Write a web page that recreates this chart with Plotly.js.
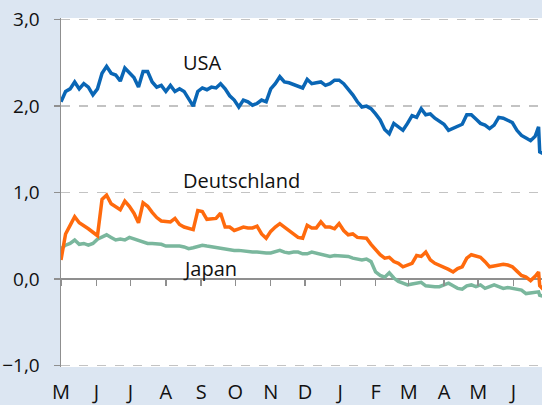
<!DOCTYPE html>
<html>
<head>
<meta charset="utf-8">
<script src="https://cdn.plot.ly/plotly-3.0.1.min.js"></script>
<style>html,body{margin:0;padding:0;background:#dce6f2;}#chart{width:542px;height:405px;}</style>
</head>
<body>
<div id="chart"></div>
<script>
const dates = [
'2015-05-01','2015-05-05','2015-05-09','2015-05-13','2015-05-17','2015-05-21','2015-05-25','2015-05-29','2015-06-02','2015-06-06',
'2015-06-10','2015-06-14','2015-06-18','2015-06-22','2015-06-26','2015-06-30','2015-07-04','2015-07-08','2015-07-12','2015-07-16',
'2015-07-20','2015-07-24','2015-07-28','2015-08-01','2015-08-05','2015-08-09','2015-08-13','2015-08-17','2015-08-21','2015-08-25',
'2015-08-29','2015-09-02','2015-09-06','2015-09-10','2015-09-14','2015-09-18','2015-09-22','2015-09-26','2015-09-30','2015-10-04',
'2015-10-08','2015-10-12','2015-10-16','2015-10-20','2015-10-24','2015-10-28','2015-11-01','2015-11-05','2015-11-09','2015-11-13',
'2015-11-17','2015-11-21','2015-11-25','2015-11-29','2015-12-03','2015-12-07','2015-12-11','2015-12-15','2015-12-19','2015-12-23',
'2015-12-27','2015-12-31','2016-01-04','2016-01-08','2016-01-12','2016-01-16','2016-01-20','2016-01-24','2016-01-28','2016-02-01',
'2016-02-05','2016-02-09','2016-02-13','2016-02-17','2016-02-21','2016-02-25','2016-02-29','2016-03-04','2016-03-08','2016-03-12',
'2016-03-16','2016-03-20','2016-03-24','2016-03-28','2016-04-01','2016-04-05','2016-04-09','2016-04-13','2016-04-17','2016-04-21',
'2016-04-25','2016-04-29','2016-05-03','2016-05-07','2016-05-11','2016-05-15','2016-05-19','2016-05-23','2016-05-27','2016-05-31',
'2016-06-04','2016-06-08','2016-06-12','2016-06-16','2016-06-20',
'2016-06-23','2016-06-24','2016-06-27'
];
const usa = [
2.05,2.17,2.20,2.28,2.20,2.26,2.22,2.13,2.20,2.38,
2.46,2.38,2.36,2.29,2.44,2.38,2.33,2.22,2.40,2.40,
2.28,2.22,2.24,2.17,2.24,2.17,2.20,2.17,2.09,2.00,
2.17,2.21,2.19,2.22,2.21,2.26,2.20,2.12,2.07,1.99,
2.07,2.05,2.01,2.03,2.07,2.05,2.20,2.26,2.34,2.28,
2.27,2.25,2.24,2.21,2.31,2.26,2.27,2.28,2.24,2.26,
2.30,2.30,2.26,2.20,2.13,2.05,1.99,2.00,1.97,1.91,
1.84,1.73,1.68,1.80,1.76,1.72,1.80,1.89,1.87,1.97,
1.90,1.91,1.86,1.82,1.79,1.72,1.74,1.76,1.79,1.90,
1.90,1.85,1.80,1.78,1.74,1.78,1.87,1.86,1.84,1.81,
1.72,1.66,1.63,1.60,1.65,
1.76,1.47,1.45
];
const deutschland = [
0.22,0.52,0.62,0.72,0.65,0.62,0.58,0.54,0.50,0.92,
0.97,0.87,0.84,0.80,0.90,0.84,0.76,0.65,0.88,0.84,
0.77,0.71,0.67,0.67,0.66,0.70,0.63,0.60,0.58,0.57,
0.79,0.78,0.69,0.69,0.70,0.76,0.60,0.60,0.56,0.58,
0.60,0.59,0.59,0.61,0.52,0.47,0.55,0.60,0.64,0.60,
0.56,0.51,0.48,0.47,0.62,0.59,0.59,0.66,0.60,0.60,
0.58,0.64,0.56,0.51,0.52,0.48,0.47,0.47,0.40,0.34,
0.28,0.24,0.25,0.20,0.18,0.14,0.16,0.18,0.27,0.26,
0.31,0.22,0.18,0.16,0.13,0.11,0.08,0.12,0.14,0.24,
0.28,0.27,0.25,0.20,0.14,0.15,0.16,0.17,0.16,0.14,
0.09,0.04,0.02,-0.02,0.03,
0.08,-0.08,-0.12
];
const japan = [
0.35,0.39,0.41,0.45,0.40,0.41,0.39,0.41,0.46,0.49,
0.51,0.48,0.45,0.46,0.45,0.48,0.46,0.44,0.43,0.41,
0.41,0.41,0.40,0.38,0.38,0.39,0.38,0.37,0.35,0.36,
0.37,0.39,0.38,0.37,0.36,0.35,0.35,0.33,0.33,0.33,
0.32,0.31,0.31,0.31,0.30,0.30,0.30,0.31,0.33,0.31,
0.30,0.31,0.31,0.29,0.29,0.31,0.30,0.29,0.27,0.26,
0.27,0.27,0.27,0.26,0.24,0.23,0.22,0.23,0.20,0.08,
0.04,0.02,0.07,0.01,-0.03,-0.05,-0.07,-0.06,-0.05,-0.04,
-0.08,-0.09,-0.09,-0.09,-0.07,-0.05,-0.08,-0.11,-0.12,-0.08,
-0.07,-0.09,-0.07,-0.11,-0.09,-0.07,-0.09,-0.11,-0.10,-0.11,
-0.11,-0.13,-0.17,-0.16,-0.16,
-0.15,-0.19,-0.20
];
const monthTicks = ['2015-05-01','2015-06-01','2015-07-01','2015-08-01','2015-09-01','2015-10-01','2015-11-01',
  '2015-12-01','2016-01-01','2016-02-01','2016-03-01','2016-04-01','2016-05-01','2016-06-01'];
const monthLabels = ['M','J','J','A','S','O','N','D','J','F','M','A','M','J'];
const yTicks = [-1, 0, 1, 2, 3];
const seriesNames = ['USA','Deutschland','Japan'];

const xRange = ['2015-05-01','2016-06-26'];
const yRange = [-1.02, 3.02];
const FONT = 'Open Sans, Noto Sans, sans-serif';

const traces = [
  {x: dates, y: japan, name: seriesNames[2], mode: 'lines', line: {color: '#7ab79d', width: 3.5}, hoverinfo: 'skip'},
  {x: dates, y: deutschland, name: seriesNames[1], mode: 'lines', line: {color: '#ff6a0d', width: 3.5}, hoverinfo: 'skip'},
  {x: dates, y: usa, name: seriesNames[0], mode: 'lines', line: {color: '#0a66b5', width: 3.5}, hoverinfo: 'skip'},
  {x: [monthTicks[0]], y: [null], xaxis: 'x2', yaxis: 'y', mode: 'lines', showlegend: false, hoverinfo: 'skip'}
];

// fraction of plot height where y = 0 lies
const zeroPos = (0 - yRange[0]) / (yRange[1] - yRange[0]);

const layout = {
  width: 542, height: 405,
  paper_bgcolor: '#dce6f2', plot_bgcolor: '#ffffff',
  margin: {l: 61, r: 0, t: 18, b: 38},
  separators: ',.',
  showlegend: false,
  font: {family: FONT, color: '#1a1a1a'},
  xaxis: {
    type: 'date', range: xRange, tickvals: monthTicks, ticktext: monthLabels,
    ticks: '', showgrid: false, zeroline: false, showline: false,
    tickfont: {size: 20, family: FONT, color: '#111'}, ticklabelstandoff: 11
  },
  xaxis2: {
    type: 'date', range: xRange, overlaying: 'x', anchor: 'free', position: zeroPos, side: 'bottom',
    tickvals: monthTicks, ticks: 'outside', ticklen: 6, tickwidth: 1.5, tickcolor: '#8f8f8f',
    showticklabels: false, showgrid: false, showline: false, zeroline: false
  },
  yaxis: {
    range: yRange, tickvals: yTicks, tickformat: '.1f',
    showline: true, linecolor: '#8f8f8f', linewidth: 1.5,
    ticks: 'outside', ticklen: 6, tickwidth: 1.5, tickcolor: '#8f8f8f',
    showgrid: true, gridcolor: '#c3c3c3', griddash: 'dash', gridwidth: 1.5,
    zeroline: true, zerolinecolor: '#8f8f8f', zerolinewidth: 1.5,
    tickfont: {size: 19, family: FONT, color: '#111'}, ticklabelstandoff: 10
  },
  annotations: [
    {text: seriesNames[0], xref: 'paper', yref: 'paper', x: 0.2495, y: 0.873, xanchor: 'left', yanchor: 'middle', showarrow: false, font: {size: 20, family: FONT, color: '#111'}},
    {text: seriesNames[1], xref: 'paper', yref: 'paper', x: 0.2495, y: 0.535, xanchor: 'left', yanchor: 'middle', showarrow: false, font: {size: 20, family: FONT, color: '#111'}},
    {text: seriesNames[2], xref: 'paper', yref: 'paper', x: 0.2495, y: 0.283, xanchor: 'left', yanchor: 'middle', showarrow: false, font: {size: 20, family: FONT, color: '#111'}}
  ]
};

Plotly.newPlot('chart', traces, layout, {staticPlot: true, displayModeBar: false});
</script>
</body>
</html>
